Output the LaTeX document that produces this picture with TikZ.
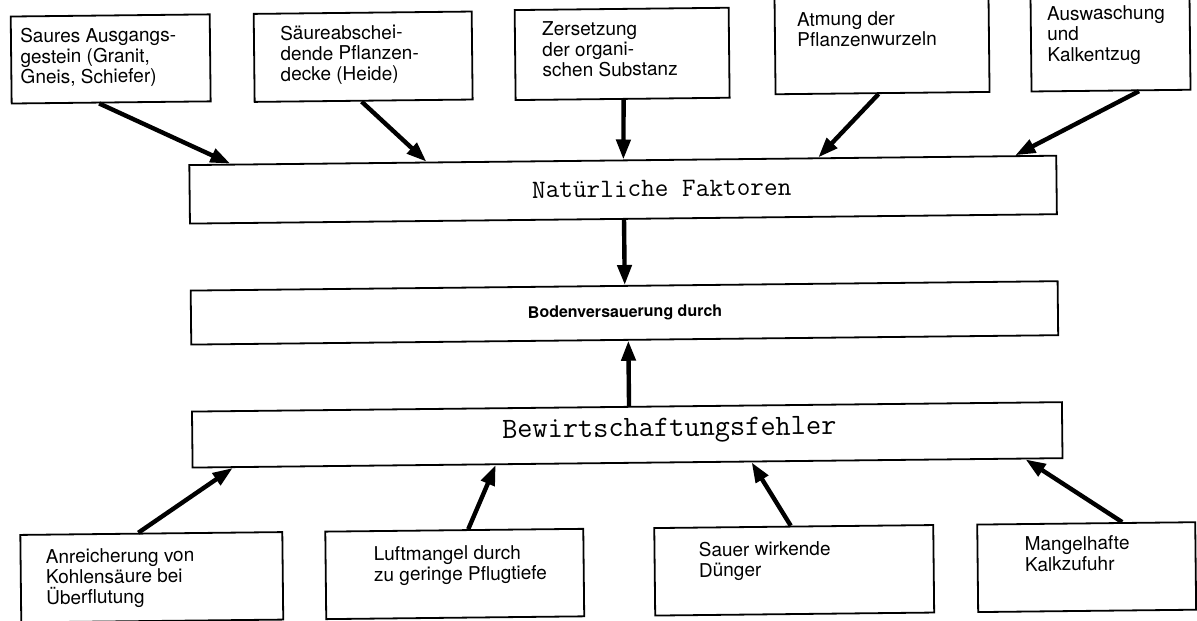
\documentclass[tikz,border=0pt]{standalone}
\usepackage{fontspec}
\setmainfont{TeX Gyre Heros}
\usetikzlibrary{arrows.meta,calc}
\tikzset{
  box/.style={draw=black, line width=1.8pt, fill=white, inner sep=0pt, anchor=north west},
  txt/.style={anchor=north west, align=left, inner sep=0pt, font=\fontsize{19}{20.5}\selectfont},
  tw/.style={inner sep=0pt, font=\ttfamily\fontsize{#1}{#1}\selectfont},
  arr/.style={line width=4.4pt, -{Triangle[length=20pt,width=14pt]}},
}
\begin{document}
\begin{tikzpicture}[x=1pt,y=-1pt]
\useasboundingbox (0,0) rectangle (1197,621);
\clip (0,0) rectangle (1197,621);
\begin{scope}[rotate around={0.62:(623,310)}, every node/.append style={transform shape}]
% top boxes
\node[box, minimum width=199pt, minimum height=87pt] (b1) at (13,9) {};
\node[box, minimum width=218pt, minimum height=88pt] (b2) at (256,9) {};
\node[box, minimum width=214pt, minimum height=90pt] (b3) at (517,8) {};
\node[box, minimum width=214pt, minimum height=105pt] (b4) at (777,-10) {};
\node[box, minimum width=159pt, minimum height=105pt] (b5) at (1033,-10) {};
\node[txt] (t1) at (23,22) {Saures Ausgangs-\\gestein (Granit,\\Gneis, Schiefer)};
\node[txt] (t2) at (283,22) {Säureabschei-\\dende Pflanzen-\\decke (Heide)};
\node[txt] (t3) at (545,21) {Zersetzung\\der organi-\\schen Substanz};
\node[txt] (t4) at (800,14) {Atmung der\\Pflanzenwurzeln};
\node[txt] (t5) at (1050,11) {Auswaschung\\und\\Kalkentzug};
% middle boxes
\node[box, minimum width=867pt, minimum height=58.5pt] (nat) at (190,159.5) {};
\node[tw=26.5] (natt) at (663,189) {Natürliche Faktoren};
\node[box, minimum width=867pt, minimum height=54pt] (bod) at (190,285) {};
\node[font=\bfseries\fontsize{16}{19}\selectfont] (bodt) at (625,313) {Bodenversauerung durch};
\node[box, minimum width=870pt, minimum height=56pt] (bew) at (190,406) {};
\node[tw=29.5] (bewt) at (668,431) {Bewirtschaftungsfehler};
% bottom boxes
\node[box, minimum width=262pt, minimum height=87.5pt] (u1) at (17,527.5) {};
\node[box, minimum width=258pt, minimum height=87.5pt] (u2) at (322,527.5) {};
\node[box, minimum width=279pt, minimum height=87.5pt] (u3) at (651,527.5) {};
\node[box, minimum width=218pt, minimum height=87.5pt] (u4) at (974,527.5) {};
\node[txt] (s1) at (43,543) {Anreicherung von\\Kohlensäure bei\\Überflutung};
\node[txt] (s2) at (371,544) {Luftmangel durch\\zu geringe Pflugtiefe};
\node[txt] (s3) at (696,543) {Sauer wirkende\\Dünger};
\node[txt] (s4) at (1022,541) {Mangelhafte\\Kalkzufuhr};
% arrows
\draw[arr] ([xshift=-12pt]b1.south) -- ([xshift=42pt]nat.north west);
\draw[arr] ([xshift=-2pt]b2.south) -- ([xshift=238pt]nat.north west);
\draw[arr] ([xshift=1pt]b3.south) -- ([xshift=435pt]nat.north west);
\draw[arr] ([xshift=-4pt]b4.south) -- ([xshift=630pt]nat.north west);
\draw[arr] ([xshift=28pt]b5.south) -- ([xshift=827pt]nat.north west);
\draw[arr] ([xshift=435pt]nat.south west) -- ([xshift=435pt]bod.north west);
\draw[arr] ([xshift=438pt]bew.north west) -- ([xshift=438pt]bod.south west);
\draw[arr] ([xshift=-13pt]u1.north) -- ([xshift=41pt]bew.south west);
\draw[arr] ([xshift=14pt]u2.north) -- ([xshift=304pt]bew.south west);
\draw[arr] ([xshift=-3pt]u3.north) -- ([xshift=560pt]bew.south west);
\draw[arr] ([xshift=36pt]u4.north) -- ([xshift=834pt]bew.south west);
\end{scope}
\end{tikzpicture}
\end{document}
